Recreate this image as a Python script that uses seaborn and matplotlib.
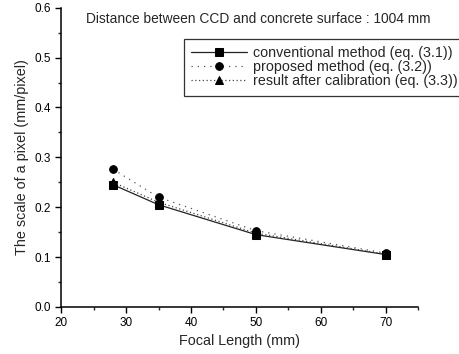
import numpy as np
import pandas as pd
import matplotlib
matplotlib.use("Agg")
import matplotlib.pyplot as plt
import seaborn as sns

# Data
focal_length = [28, 35, 50, 70]
conventional = [0.245, 0.205, 0.145, 0.105]
proposed = [0.276, 0.220, 0.153, 0.108]
calibrated = [0.250, 0.210, 0.148, 0.106]

labels = ["conventional method (eq. (3.1))",
          "proposed method (eq. (3.2))",
          "result after calibration (eq. (3.3))"]

df = pd.DataFrame({
    "focal": focal_length * 3,
    "scale": conventional + proposed + calibrated,
    "method": [labels[0]] * 4 + [labels[1]] * 4 + [labels[2]] * 4,
})

sns.set_style("ticks")
plt.rcParams["font.family"] = ["Liberation Sans", "DejaVu Sans"]

fig = plt.figure(figsize=(4.6, 3.54), dpi=100)
ax = fig.add_axes([0.133, 0.133, 0.776, 0.845])

styles = {
    labels[0]: dict(ls="-", marker="s", lw=0.9, color="#222222"),
    labels[1]: dict(ls=(0, (1, 4)), marker="o", lw=0.9, color="#555555"),
    labels[2]: dict(ls=(0, (1, 2)), marker="^", lw=0.9, color="#444444"),
}
for lab in labels:
    sub = df[df["method"] == lab]
    st = styles[lab]
    sns.lineplot(data=sub, x="focal", y="scale", ax=ax, label=lab,
                 linestyle=st["ls"], linewidth=st["lw"], color=st["color"],
                 marker=st["marker"], markersize=5.5, markerfacecolor="black",
                 markeredgecolor="black")

ax.set_xlim(20, 75)
ax.set_ylim(0.0, 0.6)
ax.set_xticks([20, 30, 40, 50, 60, 70])
ax.set_xticks([25, 35, 45, 55, 65, 75], minor=True)
ax.set_yticks([0.0, 0.1, 0.2, 0.3, 0.4, 0.5, 0.6])
ax.set_yticks(np.arange(0.05, 0.6, 0.1), minor=True)
ax.yaxis.set_major_formatter(matplotlib.ticker.FormatStrFormatter("%.1f"))
ax.tick_params(which="major", direction="out", length=4, width=1, labelsize=8.5, colors="black")
ax.tick_params(which="minor", direction="out", length=2, width=1)
sns.despine(ax=ax)
for sp in ["left", "bottom"]:
    ax.spines[sp].set_linewidth(1.1)
    ax.spines[sp].set_color("black")

ax.set_xlabel("Focal Length (mm)", fontsize=10.4, labelpad=3)
ax.set_ylabel("The scale of a pixel (mm/pixel)", fontsize=10.4, labelpad=4)

ax.text(0.07, 0.985, "Distance between CCD and concrete surface : 1004 mm",
        transform=ax.transAxes, fontsize=9.9, va="top", ha="left")

leg = ax.legend(loc="upper right", bbox_to_anchor=(1.13, 0.895), fontsize=10.3,
                frameon=True, fancybox=False, edgecolor="black",
                handlelength=3.9, borderpad=0.5, labelspacing=0.0,
                handletextpad=0.4, borderaxespad=0)
leg.get_frame().set_linewidth(0.9)

fig.savefig("out.png", dpi=100)
